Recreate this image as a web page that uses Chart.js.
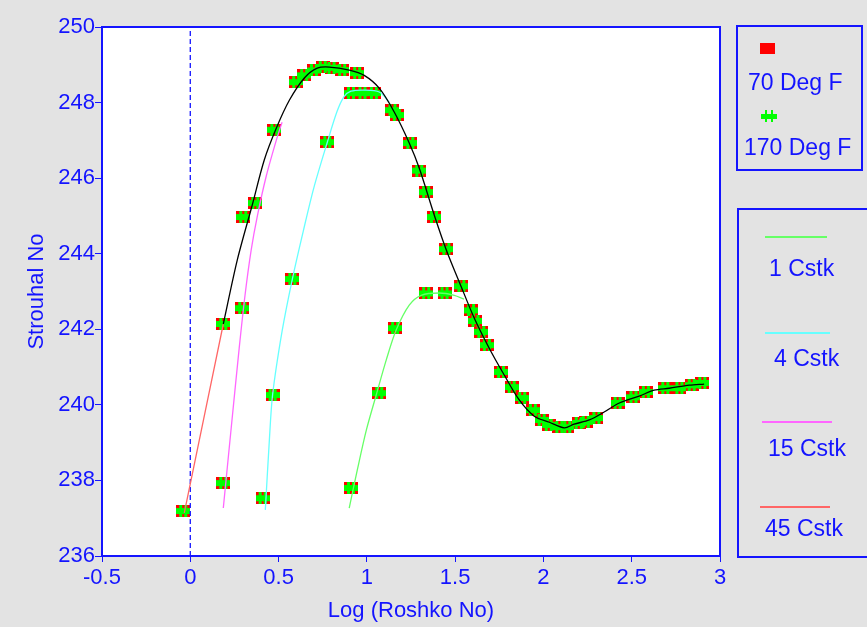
<!DOCTYPE html>
<html lang="en">
<head>
  <meta charset="UTF-8" />
  <title>Strouhal No vs Log (Roshko No)</title>
  <script src="https://cdn.jsdelivr.net/npm/chart.js@4"></script>
  <style>
    body {
      margin: 0;
      background-color: #e3e3e3;
      font-family: 'Liberation Sans', Arial, sans-serif;
    }

    .wrap {
      position: relative;
      width: 867px;
      height: 627px;
    }

    #strouhalChart {
      position: absolute;
      left: 0;
      top: 0;
    }

    .legend-box {
      position: absolute;
      box-sizing: border-box;
      border: 2px solid #1414ff;
      color: #1414ff;
      font-size: 23px;
    }

    .legend-box span {
      position: absolute;
      white-space: nowrap;
      line-height: 24px;
    }

    .swatch-line {
      position: absolute;
      height: 2px;
    }

    .red-sq {
      position: absolute;
      width: 15px;
      height: 11px;
      background: #ff0000;
    }

    .green-cross {
      position: absolute;
      width: 16px;
      height: 12px;
    }
    .green-cross i {
      position: absolute;
      background: #00ff00;
    }
  </style>
</head>
<body>
  <div class="wrap">
    <canvas id="strouhalChart" width="867" height="627"></canvas>

    <div class="legend-box" style="left:736px; top:25px; width:127px; height:146px;">
      <div class="red-sq" style="left:22px; top:16px;"></div>
      <span style="left:10px; top:43px;">70 Deg F</span>
      <div class="green-cross" style="left:23px; top:83px;">
        <i style="left:0; top:4px; width:16px; height:5px;"></i>
        <i style="left:4px; top:0; width:2px; height:12px;"></i>
        <i style="left:10px; top:0; width:2px; height:12px;"></i>
      </div>
      <span style="left:6px; top:108px;">170 Deg F</span>
    </div>

    <div class="legend-box" style="left:737px; top:208px; width:132px; height:350px;">
      <div class="swatch-line" style="left:26px; top:26px; width:62px; background:#66ff66;"></div>
      <span style="left:30px; top:46px;">1 Cstk</span>
      <div class="swatch-line" style="left:26px; top:122px; width:65px; background:#66ffff;"></div>
      <span style="left:35px; top:136px;">4 Cstk</span>
      <div class="swatch-line" style="left:23px; top:211px; width:70px; background:#ff66ff;"></div>
      <span style="left:29px; top:226px;">15 Cstk</span>
      <div class="swatch-line" style="left:21px; top:296px; width:70px; background:#ff6666;"></div>
      <span style="left:26px; top:306px;">45 Cstk</span>
    </div>
  </div>

  <script>
    // measured points (same runs at both temperatures)
    const logRoshko = [-0.04, 0.187, 0.187, 0.294, 0.30, 0.368, 0.41, 0.466, 0.476, 0.578,
      0.60, 0.645, 0.70, 0.75, 0.776, 0.80, 0.86, 0.91, 0.91, 0.945,
      0.975, 1.04, 1.07, 1.145, 1.16, 1.17, 1.246, 1.297, 1.336, 1.336,
      1.38, 1.44, 1.45, 1.535, 1.59, 1.615, 1.648, 1.68, 1.76, 1.82,
      1.88, 1.94, 1.99, 2.03, 2.09, 2.135, 2.2, 2.24, 2.30, 2.42,
      2.51, 2.58, 2.69, 2.77, 2.84, 2.90];
    const strouhal70 = [237.19, 242.14, 237.93, 242.56, 244.97, 245.34, 237.53, 240.26, 247.28, 243.33,
      248.54, 248.72, 248.85, 248.94, 246.95, 248.92, 248.86, 237.8, 248.25, 248.78,
      248.25, 248.25, 240.31, 247.8, 242.03, 247.67, 246.93, 246.2, 245.63, 242.95,
      244.97, 242.95, 244.12, 243.14, 242.5, 242.22, 241.93, 241.58, 240.87, 240.47,
      240.18, 239.86, 239.6, 239.47, 239.41, 239.41, 239.52, 239.55, 239.65, 240.05,
      240.2, 240.34, 240.44, 240.44, 240.52, 240.58];
    const strouhal170 = [237.19, 242.14, 237.93, 242.56, 244.97, 245.34, 237.53, 240.26, 247.28, 243.33,
      248.54, 248.72, 248.85, 248.94, 246.95, 248.92, 248.86, 237.8, 248.25, 248.78,
      248.25, 248.25, 240.31, 247.8, 242.03, 247.67, 246.93, 246.2, 245.63, 242.95,
      244.97, 242.95, 244.12, 243.14, 242.5, 242.22, 241.93, 241.58, 240.87, 240.47,
      240.18, 239.86, 239.6, 239.47, 239.41, 239.41, 239.52, 239.55, 239.65, 240.05,
      240.2, 240.34, 240.44, 240.44, 240.52, 240.58];

    // fitted curves
    const envX = [0.187, 0.266, 0.351, 0.419, 0.487, 0.561, 0.646, 0.719, 0.787, 0.90,
      0.985, 1.07, 1.155, 1.24, 1.297, 1.382, 1.45, 1.535, 1.608, 1.693,
      1.778, 1.863, 1.948, 2.033, 2.118, 2.174, 2.26, 2.344, 2.43, 2.542,
      2.627, 2.712, 2.826, 2.91];
    const envY = [242.14, 243.83, 245.29, 246.48, 247.32, 248.06, 248.65, 248.91, 248.94, 248.86,
      248.72, 248.38, 247.75, 246.93, 246.26, 245.02, 244.1, 243.12, 242.3, 241.5,
      240.79, 240.13, 239.7, 239.54, 239.39, 239.49, 239.6, 239.81, 240.05, 240.23,
      240.39, 240.44, 240.52, 240.55];
    const cst1X = [0.90, 0.946, 0.997, 1.053, 1.11, 1.166, 1.24, 1.308, 1.41, 1.495, 1.55];
    const cst1Y = [237.27, 238.28, 239.33, 240.26, 241.19, 241.98, 242.64, 242.9, 242.96, 242.9, 242.8];
    const cst4X = [0.425, 0.447, 0.466, 0.52, 0.578, 0.64, 0.70, 0.776, 0.83, 0.87, 0.91, 0.985, 1.07, 1.127];
    const cst4Y = [237.22, 239.0, 240.26, 241.95, 243.33, 244.6, 245.75, 246.95, 247.75, 248.15, 248.3, 248.33, 248.28, 248.01];
    const cst15X = [0.187, 0.232, 0.277, 0.31, 0.345, 0.38, 0.43, 0.487, 0.52];
    const cst15Y = [237.27, 239.4, 241.5, 242.9, 244.1, 245.0, 246.05, 247.0, 247.48];
    const cst45X = [-0.034, 0.187];
    const cst45Y = [237.14, 242.14];

    const xTicks = { min: -0.5, max: 3, step: 0.5 };
    const yTicks = { min: 236, max: 250, step: 2 };

    const BLUE = "#1414ff";

    function pts(xs, ys) {
      return xs.map((x, i) => ({ x: x, y: ys[i] }));
    }

    function redMarker() {
      const c = document.createElement("canvas");
      c.width = 14; c.height = 12;
      const g = c.getContext("2d");
      g.fillStyle = "#ff0000";
      g.fillRect(0, 0, 14, 12);
      return c;
    }

    function greenMarker() {
      const c = document.createElement("canvas");
      c.width = 14; c.height = 12;
      const g = c.getContext("2d");
      g.fillStyle = "#00ff00";
      g.fillRect(0, 3, 14, 6);
      g.fillRect(3, 0, 3, 12);
      g.fillRect(8, 0, 3, 12);
      return c;
    }

    function curve(xs, ys, color) {
      return {
        data: pts(xs, ys),
        showLine: true,
        borderColor: color,
        borderWidth: 1.3,
        pointRadius: 0,
        tension: 0.3
      };
    }

    const frame = {
      id: "frame",
      beforeDatasetsDraw(chart) {
        const { ctx, chartArea: a } = chart;
        ctx.save();
        ctx.fillStyle = "#ffffff";
        ctx.fillRect(a.left, a.top, a.right - a.left, a.bottom - a.top);
        ctx.restore();
      },
      afterDraw(chart) {
        const { ctx, chartArea: a } = chart;
        ctx.save();
        ctx.strokeStyle = BLUE;
        ctx.lineWidth = 2;
        ctx.strokeRect(a.left, a.top, a.right - a.left, a.bottom - a.top);
        ctx.restore();
      }
    };

    const tickFont = { family: "'Liberation Sans', Arial, sans-serif", size: 22 };

    new Chart(document.getElementById("strouhalChart"), {
      type: "scatter",
      data: {
        datasets: [
          curve(envX, envY, "#000000"),
          curve(cst1X, cst1Y, "#66ff66"),
          curve(cst4X, cst4Y, "#66ffff"),
          curve(cst15X, cst15Y, "#ff66ff"),
          curve(cst45X, cst45Y, "#ff6666"),
          {
            data: [{ x: 0, y: yTicks.min }, { x: 0, y: yTicks.max }],
            showLine: true,
            borderColor: BLUE,
            borderWidth: 1.3,
            borderDash: [5, 3],
            pointRadius: 0
          },
          {
            label: "170 Deg F",
            data: pts(logRoshko, strouhal170),
            pointStyle: greenMarker(),
            pointRadius: 6
          },
          {
            label: "70 Deg F",
            data: pts(logRoshko, strouhal70),
            pointStyle: redMarker(),
            pointRadius: 6
          }
        ]
      },
      options: {
        responsive: false,
        animation: false,
        layout: { padding: { top: 27, right: 147, left: 0, bottom: 0 } },
        plugins: {
          legend: { display: false },
          tooltip: { enabled: false }
        },
        scales: {
          x: {
            type: "linear",
            min: xTicks.min,
            max: xTicks.max,
            afterFit: (s) => { s.height = 71; },
            ticks: {
              stepSize: xTicks.step, color: BLUE, font: tickFont, padding: 3, maxRotation: 0,
              callback: (v) => String(Math.round(v * 10) / 10)
            },
            grid: { drawOnChartArea: false, color: BLUE, tickLength: 6 },
            border: { color: BLUE, width: 2 },
            title: { display: true, text: "Log (Roshko No)", color: BLUE, font: tickFont, padding: { top: 0, bottom: 3 } }
          },
          y: {
            min: yTicks.min,
            max: yTicks.max,
            afterFit: (s) => { s.width = 102; },
            ticks: { stepSize: yTicks.step, color: BLUE, font: tickFont, padding: 0 },
            grid: { drawOnChartArea: false, color: BLUE, tickLength: 7 },
            border: { color: BLUE, width: 2 },
            title: { display: true, text: "Strouhal No", color: BLUE, font: tickFont, padding: { top: 24, bottom: 0 } }
          }
        }
      },
      plugins: [frame]
    });
  </script>
</body>
</html>
